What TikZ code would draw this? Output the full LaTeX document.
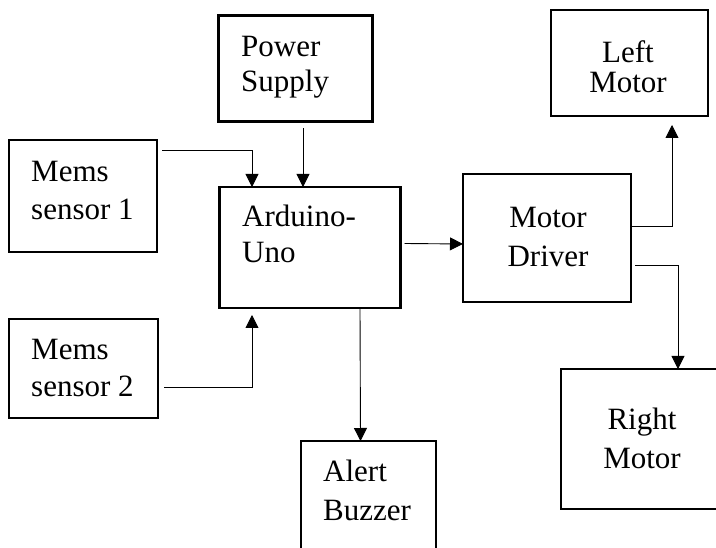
\documentclass[tikz,border=0pt]{standalone}
\usepackage{fontspec}
\setmainfont{Liberation Serif}
\usetikzlibrary{arrows.meta,calc}
\tikzset{
  box/.style={draw=black, line width=2.2pt, inner sep=0pt, outer sep=0pt, fill=none},
  lbl/.style={inner sep=0pt, font=\fontsize{31}{37}\selectfont},
  conn/.style={draw=black, line width=0.9pt},
  arr/.style={conn, -{Triangle[width=13pt,length=13pt]}}
}
\begin{document}
\begin{tikzpicture}[x=1pt,y=-1pt]
\useasboundingbox (0,0) rectangle (716,548);
\clip (0,0) rectangle (716,548);
\fill[white] (0,0) rectangle (716,548);
% boxes
\node[box, minimum width=154pt, minimum height=106pt] (ps) at (295.5,68.5) {};
\node[box, minimum width=157pt, minimum height=106pt] (lm) at (629.5,63) {};
\node[box, minimum width=148pt, minimum height=112pt] (m1) at (83,196) {};
\node[box, minimum width=181pt, minimum height=121pt] (ard) at (310,247.5) {};
\node[box, minimum width=168pt, minimum height=128pt] (md) at (547,238) {};
\node[box, minimum width=149pt, minimum height=99pt] (m2) at (83.5,368.5) {};
\node[box, minimum width=172pt, minimum height=140pt] (rm) at (647,439) {};
\node[box, minimum width=135pt, minimum height=118pt] (bz) at (368.5,500) {};
% labels
\node[lbl, anchor=base west] (psa) at (241,57) {Power};
\node[lbl, anchor=base west] (psb) at (241,92) {Supply};
\node[lbl, anchor=base] (lma) at (628,63) {Left};
\node[lbl, anchor=base] (lmb) at (628,93) {Motor};
\node[lbl, anchor=base west] (m1a) at (31,182) {Mems};
\node[lbl, anchor=base west] (m1b) at (31,220) {sensor 1};
\node[lbl, anchor=base west] (arda) at (242,227) {Arduino-};
\node[lbl, anchor=base west] (ardb) at (242,263) {Uno};
\node[lbl, anchor=base] (mda) at (548,228) {Motor};
\node[lbl, anchor=base] (mdb) at (548,267) {Driver};
\node[lbl, anchor=base west] (m2a) at (31,360) {Mems};
\node[lbl, anchor=base west] (m2b) at (31,397) {sensor 2};
\node[lbl, anchor=base] (rma) at (642,430) {Right};
\node[lbl, anchor=base] (rmb) at (642,468) {Motor};
\node[lbl, anchor=base west] (bza) at (323,482) {Alert};
\node[lbl, anchor=base west] (bzb) at (323,520) {Buzzer};
% connectors
\draw[arr] ($(m1.north east)+(5,10)$) -| ($(ard.north west)+(32.5,0)$);
\draw[arr] ($(ps.south)+(7.5,7)$) -- ($(ard.north west)+(83.5,0)$);
\draw[arr] ($(m2.east)+(6,19)$) -| ($(ard.south west)+(32.5,7)$);
\draw[arr] ($(ard.east)+(4,-4)$) -- ($(md.west)+(0,6)$);
\draw[arr] ($(ard.south west)+(140.5,0)$) -- ($(bz.north west)+(59.5,0)$);
\draw[arr] ($(md.east)+(0,-12)$) -| ($(lm.south west)+(121,9)$);
\draw[arr] ($(md.east)+(4,27)$) -| ($(rm.north west)+(117,0)$);
\end{tikzpicture}
\end{document}
